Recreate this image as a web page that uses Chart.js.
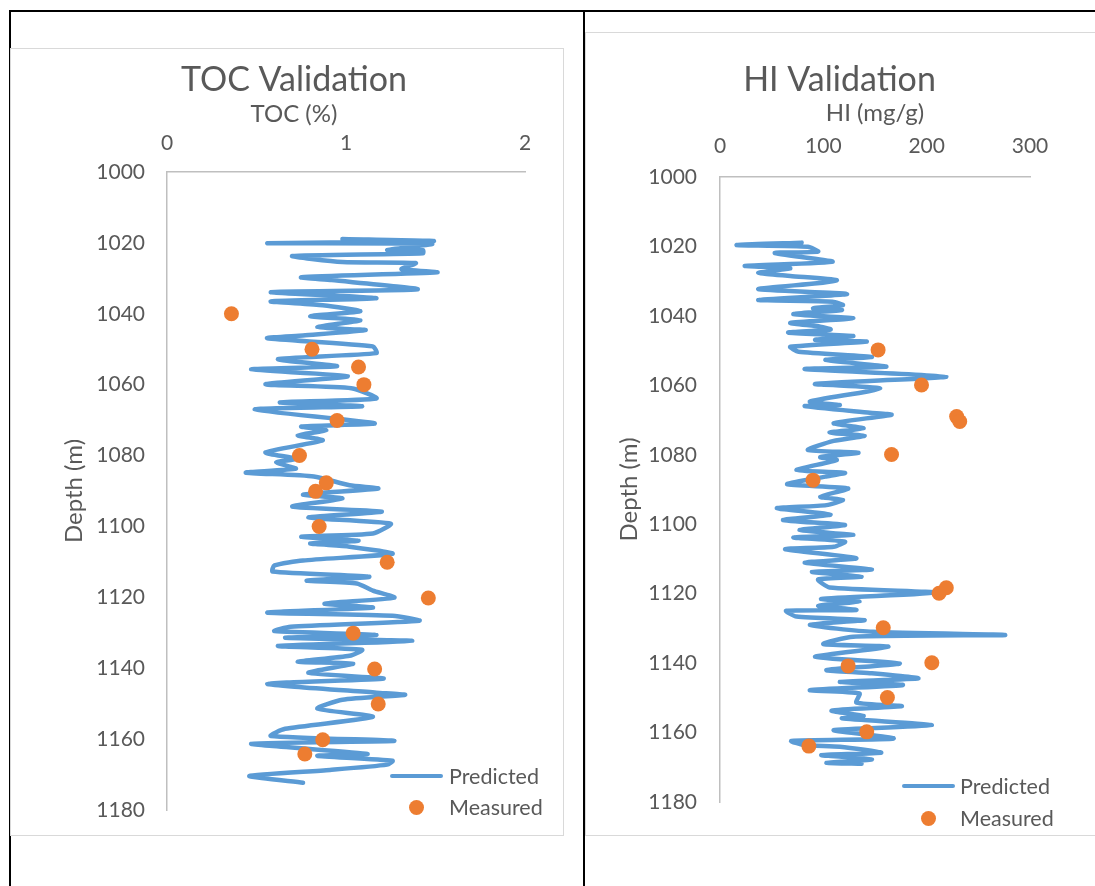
<!DOCTYPE html>
<html>
<head>
<meta charset="utf-8">
<script src="https://cdn.jsdelivr.net/npm/chart.js@4.4.1/dist/chart.umd.min.js"></script>
<style>
  body { margin: 0; width: 1095px; height: 886px; overflow: hidden; position: relative; background: #fff; font-family: Lato, "Open Sans", sans-serif; }
  .rule { position: absolute; background: #000; }
  .box { position: absolute; box-sizing: border-box; border: 1.5px solid #D9D9D9; background: #fff; }
  canvas { position: absolute; }
  .leg { position: absolute; color: #595959; font-size: 21.5px; line-height: 26px; white-space: nowrap; }
  .legLine { position: absolute; height: 4px; background: #5B9BD5; border-radius: 2px; }
  .legDot { position: absolute; width: 15px; height: 15px; border-radius: 50%; background: #ED7D31; }
</style>
</head>
<body>
<div class="rule" style="left:9px; top:10px; width:1086px; height:2px;"></div>
<div class="rule" style="left:9px; top:10px; width:2px; height:876px;"></div>
<div class="rule" style="left:583px; top:10px; width:2px; height:876px;"></div>

<div class="box" style="left:10px; top:48px; width:554px; height:788px;"></div>
<div class="box" style="left:585px; top:32px; width:520px; height:804px;"></div>

<canvas id="tocChart" width="553" height="787" style="left:10px; top:48px;"></canvas>
<canvas id="hiChart" width="510" height="803" style="left:585px; top:32px;"></canvas>

<div class="legLine" style="left:390px; top:774px; width:53px;"></div>
<div class="leg" style="left:449px; top:763px;">Predicted</div>
<div class="legDot" style="left:409px; top:800px;"></div>
<div class="leg" style="left:449px; top:794px;">Measured</div>

<div class="legLine" style="left:902px; top:784px; width:53px;"></div>
<div class="leg" style="left:960px; top:773px;">Predicted</div>
<div class="legDot" style="left:921px; top:811px;"></div>
<div class="leg" style="left:960px; top:805px;">Measured</div>

<script>
// TOC validation: predicted log and measured core samples
const tocDepth = [1018.9,1019.5,1020.1,1020.3,1022.0,1022.1,1022.9,1023.7,1025.4,1025.7,1027.4,1028.3,1029.7,1030.5,1033.1,1033.9,1035.6,1036.5,1037.6,1039.3,1040.7,1041.8,1043.8,1044.6,1046.1,1046.9,1049.2,1051.1,1052.8,1054.8,1055.7,1057.6,1059.9,1061.0,1063.9,1065.0,1066.1,1067.0,1070.9,1071.8,1072.9,1074.3,1075.7,1079.1,1080.9,1081.9,1083.7,1084.8,1085.9,1088.4,1089.3,1091.0,1092.1,1094.4,1095.8,1097.5,1099.2,1102.0,1102.9,1104.0,1104.8,1105.7,1107.7,1109.6,1111.0,1112.7,1114.2,1115.3,1116.1,1118.1,1120.1,1121.8,1122.9,1124.3,1125.2,1126.6,1128.3,1129.5,1130.6,1131.4,1132.3,1133.7,1134.8,1136.5,1138.2,1138.7,1141.3,1142.9,1144.4,1146.9,1147.5,1148.9,1151.4,1153.7,1157.1,1159.1,1160.5,1161.3,1164.2,1164.7,1166.1,1167.2,1168.7,1170.4,1172.3];
const tocPredicted = [0.98,1.49,0.56,1.48,1.23,1.43,1.43,0.70,0.98,1.39,1.31,1.51,0.75,0.92,1.40,0.58,1.17,0.58,0.87,1.08,0.80,1.08,0.84,1.11,0.76,0.56,1.15,1.17,0.62,0.95,0.47,1.01,0.55,1.03,1.17,0.63,1.09,0.49,1.16,0.75,0.89,0.73,0.87,0.55,0.72,0.61,0.72,0.44,0.82,1.02,1.18,0.76,0.98,0.70,1.20,0.79,1.25,1.15,0.75,1.07,0.80,1.02,1.26,0.76,0.60,0.59,1.13,0.78,1.06,1.15,1.27,0.88,1.15,0.56,1.26,1.41,0.69,0.60,1.17,0.66,1.37,0.62,1.09,1.02,0.73,1.04,0.79,1.21,0.56,1.17,1.33,0.98,0.84,1.15,0.66,0.58,1.27,0.47,1.12,0.84,1.26,1.23,0.91,0.46,0.76];
const tocMeasDepth = [1040.0,1050.0,1055.0,1060.0,1070.1,1080.0,1087.7,1090.1,1100.0,1110.1,1120.2,1130.1,1140.2,1150.1,1160.2,1164.2];
const tocMeasured = [0.36,0.81,1.07,1.10,0.95,0.74,0.89,0.83,0.85,1.23,1.46,1.04,1.16,1.18,0.87,0.77];

// HI validation
const hiDepth = [1018.9,1019.6,1020.1,1021.5,1021.9,1024.4,1025.6,1026.3,1027.6,1028.5,1029.7,1030.6,1032.3,1033.7,1035.4,1035.9,1036.9,1037.8,1038.3,1039.5,1040.7,1042.0,1043.1,1043.9,1044.8,1045.8,1046.9,1047.4,1048.9,1050.3,1051.8,1052.7,1054.6,1055.3,1057.5,1059.6,1060.9,1064.7,1065.7,1066.0,1067.9,1068.5,1070.9,1072.4,1073.6,1074.5,1076.0,1078.6,1079.4,1080.7,1081.5,1084.4,1085.2,1086.3,1088.5,1089.7,1092.1,1093.0,1094.5,1095.4,1097.2,1098.8,1100.2,1101.7,1103.1,1103.8,1105.0,1106.5,1107.2,1109.8,1111.1,1113.0,1113.7,1115.1,1115.9,1118.2,1119.7,1121.5,1122.3,1123.5,1124.7,1124.9,1126.6,1127.6,1129.0,1131.0,1131.9,1132.4,1134.5,1135.3,1138.2,1140.1,1142.0,1142.9,1144.4,1145.4,1146.3,1147.8,1148.7,1151.4,1152.4,1153.7,1155.2,1155.9,1157.9,1159.3,1161.7,1162.4,1163.6,1164.1,1165.8,1166.5,1167.7,1168.7,1169.0];
const hiPredicted = [79,16,85,95,53,109,24,68,37,68,113,94,37,123,37,109,119,90,118,71,129,68,97,107,66,129,92,142,68,76,147,102,161,82,219,92,155,87,116,82,145,166,110,139,106,140,110,85,134,97,113,74,121,102,65,124,97,119,103,55,107,61,121,77,129,71,121,110,63,132,82,147,89,137,95,106,210,98,135,95,132,64,74,140,87,148,276,129,100,163,92,174,103,145,192,116,177,87,135,132,176,108,139,118,205,110,168,69,81,116,156,98,147,103,137];
const hiMeasDepth = [1049.8,1059.9,1069.0,1070.4,1079.9,1087.3,1118.3,1119.9,1129.8,1139.9,1140.8,1149.9,1159.8,1163.9];
const hiMeasured = [153,195,229,232,166,90,219,212,158,205,124,162,142,86];

const TEXT = '#595959';
const FONT = 'Lato, "Open Sans", sans-serif';

function pairs(xs, ys) {
    return xs.map((x, i) => ({ x: x, y: ys[i] }));
}

// g holds layout in canvas pixels, s holds content
function validationChart(canvasId, g, s) {
    const titleH = g.titlePadTop + g.titleSize * 1.2;
    const axisLh = g.axisTitleSize * 1.2;
    const tickLh = g.tickSize * 1.2;
    const subH = g.subtitle ? (g.xTitleY - titleH - axisLh / 2) + axisLh : 0;

    return new Chart(document.getElementById(canvasId), {
        type: 'scatter',
        data: {
            datasets: [
                {
                    label: 'Predicted',
                    data: pairs(s.pred, s.depth),
                    showLine: true,
                    borderColor: '#5B9BD5',
                    backgroundColor: '#5B9BD5',
                    borderWidth: 4.5,
                    pointRadius: 0,
                    tension: 0.2,
                    borderCapStyle: 'round',
                    borderJoinStyle: 'round',
                    order: 2
                },
                {
                    label: 'Measured',
                    data: pairs(s.meas, s.measDepth),
                    pointRadius: 7.5,
                    backgroundColor: '#ED7D31',
                    borderColor: '#ED7D31',
                    borderWidth: 0,
                    order: 1
                }
            ]
        },
        options: {
            responsive: false,
            animation: false,
            events: [],
            layout: { padding: { left: g.padLeft, right: g.padRight, top: 0, bottom: g.padBottom } },
            plugins: {
                legend: { display: false },
                tooltip: { enabled: false },
                title: {
                    display: true,
                    text: s.title,
                    color: TEXT,
                    font: { family: FONT, size: g.titleSize, weight: 'normal', lineHeight: 1.2 },
                    padding: { top: g.titlePadTop, bottom: 0 }
                },
                subtitle: {
                    display: !!g.subtitle,
                    text: s.xTitle,
                    color: TEXT,
                    font: { family: FONT, size: g.axisTitleSize, weight: 'normal', lineHeight: 1.2 },
                    padding: { top: g.xTitleY - titleH - axisLh / 2, bottom: 0 }
                }
            },
            scales: {
                x: {
                    type: 'linear',
                    position: 'top',
                    min: s.xMin,
                    max: s.xMax,
                    ticks: {
                        stepSize: s.xStep,
                        color: TEXT,
                        font: { family: FONT, size: g.tickSize },
                        padding: g.plotTop - g.xTickY - tickLh / 2,
                        callback: v => String(v)
                    },
                    grid: { display: true, drawOnChartArea: false, drawTicks: false },
                    border: { display: true, color: '#BFBFBF', width: 1.5 },
                    title: {
                        display: !g.subtitle,
                        text: s.xTitle,
                        color: TEXT,
                        font: { family: FONT, size: g.axisTitleSize, lineHeight: 1.2 },
                        padding: { top: g.xTitleY - titleH - axisLh / 2, bottom: 0 }
                    },
                    afterFit: sc => {
                        sc.height = g.plotTop - titleH - subH;
                        sc.paddingLeft = 0;
                        sc.paddingRight = 0;
                    }
                },
                y: {
                    type: 'linear',
                    reverse: true,
                    min: 1000,
                    max: 1180,
                    ticks: {
                        stepSize: 20,
                        color: TEXT,
                        font: { family: FONT, size: g.tickSize },
                        padding: g.yTickPad,
                        callback: v => String(v)
                    },
                    grid: { display: true, drawOnChartArea: false, drawTicks: false },
                    border: { display: true, color: '#BFBFBF', width: 1.5 },
                    title: {
                        display: true,
                        text: 'Depth (m)',
                        color: TEXT,
                        font: { family: FONT, size: g.axisTitleSize, lineHeight: 1.2 },
                        padding: { top: g.yTitleX - g.padLeft - axisLh / 2, bottom: 0 }
                    },
                    afterFit: sc => {
                        sc.width = g.plotLeft - g.padLeft;
                        // keep tick-label overhang from pushing the plot edges
                        sc.paddingTop = 0;
                        sc.paddingBottom = 0;
                    }
                }
            }
        }
    });
}

validationChart('tocChart', {
    padLeft: 53, padRight: 38, padBottom: 25,
    plotTop: 124, plotLeft: 157,
    titleSize: 34, titlePadTop: 12.1,
    axisTitleSize: 24, tickSize: 21,
    xTitleY: 66, xTickY: 95.3, yTitleX: 64, yTickPad: 22,
    subtitle: true
}, {
    title: 'TOC Validation', xTitle: 'TOC (%)',
    xMin: 0, xMax: 2, xStep: 1,
    depth: tocDepth, pred: tocPredicted,
    measDepth: tocMeasDepth, meas: tocMeasured
});

validationChart('hiChart', {
    padLeft: 64, padRight: 65, padBottom: 33,
    plotTop: 145, plotLeft: 135,
    titleSize: 34, titlePadTop: 27.4,
    axisTitleSize: 24, tickSize: 21,
    xTitleY: 81, xTickY: 113.8, yTitleX: 44, yTickPad: 23,
    subtitle: false
}, {
    title: 'HI Validation', xTitle: 'HI (mg/g)',
    xMin: 0, xMax: 300, xStep: 100,
    depth: hiDepth, pred: hiPredicted,
    measDepth: hiMeasDepth, meas: hiMeasured
});
</script>
</body>
</html>
